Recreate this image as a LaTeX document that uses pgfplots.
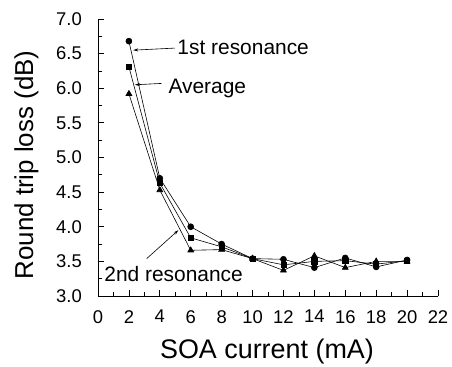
\documentclass[border=0pt]{standalone}
\usepackage{pgfplots}
\pgfplotsset{compat=1.18}
\usepackage{fontspec}
\setmainfont{Liberation Sans}
\usetikzlibrary{arrows.meta}
\begin{document}
\begin{tikzpicture}
\path[use as bounding box] (0,0) rectangle (452bp,367bp);
\begin{axis}[
  at={(98bp,71bp)}, anchor=origin,
  scale only axis, width=340bp, height=277bp,
  xmin=0, xmax=22, ymin=3.0, ymax=7.0,
  axis x line*=bottom, axis y line*=left,
  axis line style={-, line width=0.8pt},
  xtick={0,2,...,22}, minor xtick={1,3,...,21},
  ytick={3.0,3.5,...,7.0}, minor ytick={3.25,3.75,...,6.75},
  tick align=inside,
  major tick length=6bp, minor tick length=3.5bp,
  tick style={line width=0.8pt, black},
  yticklabel style={/pgf/number format/fixed, /pgf/number format/fixed zerofill, /pgf/number format/precision=1, font=\fontsize{18.5}{20}\selectfont, inner sep=0pt, xshift=-16bp},
  xticklabel style={font=\fontsize{18.5}{20}\selectfont, inner sep=0pt, yshift=-14bp},
  /pgf/number format/assume math mode=true,
  xlabel={SOA current (mA)}, ylabel={Round trip loss (dB)},
  xlabel style={font=\fontsize{27}{30}\selectfont, inner sep=0pt, at={(axis description cs:0.497,-0.224)}, anchor=base},
  ylabel style={font=\fontsize{26}{29}\selectfont, inner sep=0pt, at={(axis description cs:-0.191,0.473)}, anchor=base},
  clip=false,
]
\addplot[black, line width=0.6pt, mark=*, mark size=3bp] coordinates {
(2,6.68) (4,4.70) (6,4.00) (8,3.75) (10,3.54) (12,3.53) (14,3.41) (16,3.55) (18,3.42) (20,3.52)};
\addplot[black, line width=0.6pt, mark=square*, mark size=2.6bp] coordinates {
(2,6.31) (4,4.63) (6,3.84) (8,3.71) (10,3.54) (12,3.45) (14,3.50) (16,3.51) (18,3.46) (20,3.51)};
\addplot[black, line width=0.6pt, mark=triangle*, mark size=3.4bp] coordinates {
(2,5.92) (4,4.53) (6,3.66) (8,3.67) (10,3.54) (12,3.37) (14,3.58) (16,3.41) (18,3.50) (20,3.50)};
\draw[-{Stealth[length=5bp,width=3bp]}, line width=0.6pt] (axis cs:4.98,6.58) -- (axis cs:2.28,6.55);
\draw[-{Stealth[length=5bp,width=3bp]}, line width=0.6pt] (axis cs:4.12,6.07) -- (axis cs:2.39,6.05);
\draw[-{Stealth[length=5bp,width=3bp]}, line width=0.6pt] (axis cs:3.15,3.54) -- (axis cs:5.2,3.95);
\node[anchor=west, inner sep=0pt, font=\fontsize{21}{24}\selectfont] at (axis cs:5.13,6.59) {1st resonance};
\node[anchor=west, inner sep=0pt, font=\fontsize{21}{24}\selectfont] at (axis cs:4.55,6.0) {Average};
\node[anchor=west, inner sep=0pt, font=\fontsize{21}{24}\selectfont] at (axis cs:0.4,3.32) {2nd resonance};
\end{axis}
\end{tikzpicture}
\end{document}
